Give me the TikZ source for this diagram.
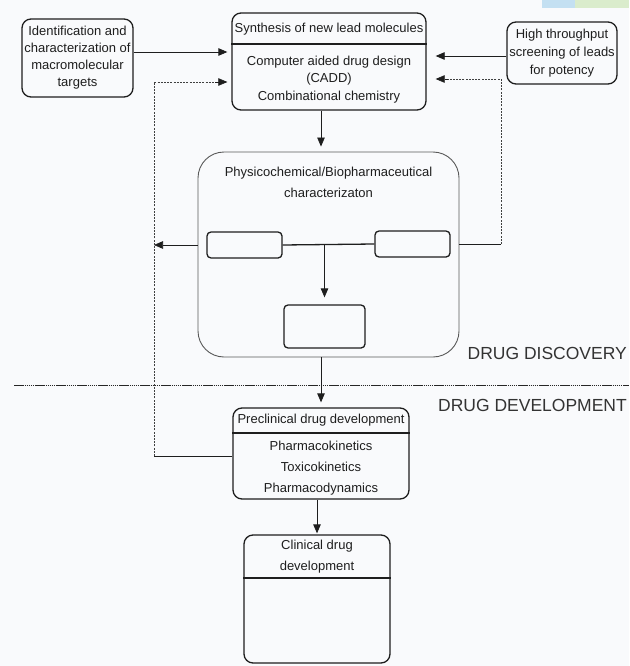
\documentclass[tikz,border=0pt]{standalone}
\usepackage{fontspec}
\setmainfont{Liberation Sans}
\usetikzlibrary{arrows.meta,positioning,calc}
\definecolor{pageBg}{RGB}{249,250,252}
\definecolor{lineDark}{RGB}{30,30,30}
\definecolor{textDark}{RGB}{30,30,30}
\definecolor{barBlue}{RGB}{196,224,242}
\definecolor{barGreen}{RGB}{218,236,204}
\tikzset{
    stageBox/.style={
        ,   draw=lineDark
        ,   line width=1.3pt
        ,   rounded corners=9pt
        ,   inner sep=0pt
        ,   align=center
        ,   text=textDark
    },
    phaseBox/.style={
        ,   draw=black!65
        ,   line width=0.9pt
        ,   rounded corners=26pt
        ,   inner sep=0pt
    },
    slotBox/.style={
        ,   draw=lineDark
        ,   line width=1.3pt
        ,   rounded corners=4pt
        ,   inner sep=0pt
    },
    boxText/.style={ % lines inside a box, #1 = line distance
        ,   align=center
        ,   text=textDark
        ,   inner sep=0pt
        ,   font=\fontsize{13pt}{#1}\selectfont
    },
    phaseLabel/.style={
        ,   anchor=east
        ,   inner sep=0pt
        ,   text=black!80
        ,   font=\fontsize{17.5pt}{20pt}\selectfont
    },
    link/.style={
        ,   draw=lineDark
        ,   line width=0.8pt
    },
    feedback/.style={
        ,   draw=black!75
        ,   line width=0.7pt
        ,   dash pattern=on 2pt off 1.2pt
    },
}

\begin{document}
\begin{tikzpicture}[x=1pt, y=-1pt, font=\fontsize{13pt}{17pt}\selectfont,
    >={Triangle[length=9pt,width=7.5pt]}]
	\useasboundingbox[fill=pageBg] (0,0) rectangle (629,666);
	\fill[barBlue] (542,0) rectangle (575,8);
	\fill[barGreen] (575,0) rectangle (629,8);

	% top row
	\node[stageBox, minimum width=111pt, minimum height=78pt] (ident) at (77.5,58)
		{Identification and\\characterization of\\macromolecular\\targets};
	\node[stageBox, minimum width=194pt, minimum height=97pt] (synth) at (329,61.5) {};
	\node[boxText=17pt] (synthTitle) at (329,29) {Synthesis of new lead molecules};
	\draw[line width=1.3pt, lineDark] (synth.west |- 0,44) -- (synth.east |- 0,44);
	\node[boxText=17.5pt] (synthBody) at (329,79.5)
		{Computer aided drug design\\(CADD)\\Combinational chemistry};
	\node[stageBox, minimum width=110pt, minimum height=62pt, font=\fontsize{13pt}{18pt}\selectfont] (hts) at (562,53)
		{High throughput\\screening of leads\\for potency};

	% characterization block
	\node[phaseBox, minimum width=261pt, minimum height=205pt] (phys) at (328.5,254.5) {};
	\node[boxText=21pt] (physTitle) at (328.5,182)
		{Physicochemical/Biopharmaceutical\\characterizaton};
	\node[slotBox, minimum width=75pt, minimum height=26pt] (boxL) at (244.5,245) {};
	\node[slotBox, minimum width=75pt, minimum height=26pt] (boxR) at (412.5,244) {};
	\node[slotBox, minimum width=81pt, minimum height=43pt] (boxB) at (324.5,326.5) {};
	\draw[link, line width=1.3pt] (boxL.east) -- (boxR.west);
	\draw[link, ->, shorten >=7pt] (boxB.north |- boxL.east) -- (boxB.north);

	% phases
	\node[phaseLabel] (discovery) at (627,353) {DRUG DISCOVERY};
	\draw[line width=1pt, black!85, dash pattern=on 1.5pt off 0.6pt] (14,385) -- (629,385);
	\node[phaseLabel] (development) at (627,405) {DRUG DEVELOPMENT};

	% development boxes
	\node[stageBox, minimum width=176pt, minimum height=91pt] (preclin) at (321,453.5) {};
	\node[boxText=17pt] (preclinTitle) at (321,420) {Preclinical drug development};
	\draw[line width=1.3pt, lineDark] (preclin.west |- 0,433) -- (preclin.east |- 0,433);
	\node[boxText=21pt] (preclinBody) at (321,468)
		{Pharmacokinetics\\Toxicokinetics\\Pharmacodynamics};
	\node[stageBox, minimum width=146pt, minimum height=128pt] (clinical) at (317,599) {};
	\node[boxText=21pt] (clinicalTitle) at (317,556.5) {Clinical drug\\development};
	\draw[line width=1.3pt, lineDark] (clinical.west |- 0,578) -- (clinical.east |- 0,578);

	% main flow
	\draw[link, ->, shorten >=4pt] ([yshift=6pt]ident.east) -- ([yshift=6pt]ident.east -| synth.west);
	\draw[link, ->, shorten >=9pt] ([yshift=-3pt]hts.west) -- ([yshift=-3pt]hts.west -| synth.east);
	\draw[link, ->, shorten >=5pt] ([xshift=-8pt]synth.south) -- ([xshift=-8pt]synth.south |- phys.north);
	\draw[link, ->, shorten >=5pt] (phys.south -| preclin.north) -- (preclin.north);
	\draw[link, ->, shorten >=1pt] (clinical.north |- preclin.south) -- (clinical.north);

	% feedback loops
	\coordinate (fbL) at (154,82);
	\coordinate (fbR) at (501,79);
	\coordinate (tipL) at ($(fbL -| synth.west)+(-16,0)$);
	\coordinate (tipR) at ($(fbR -| synth.east)+(21,0)$);
	\draw[link, line width=0.6pt, ->] (phys.west |- boxL.west) -- (boxL.west -| fbL);
	\draw[link, line width=0.6pt] ([yshift=-2.5pt]preclin.west) -- ([yshift=-2.5pt]preclin.west -| fbL);
	\draw[feedback] ([yshift=-2.5pt]preclin.west -| fbL) -- (fbL) -- (tipL);
	\draw[link, line width=0.6pt, ->, shorten >=4pt] (tipL) -- (fbL -| synth.west);
	\draw[link, line width=0.6pt] (phys.east |- boxR.east) -- (boxR.east -| fbR);
	\draw[feedback] (boxR.east -| fbR) -- (fbR) -- (tipR);
	\draw[link, line width=0.6pt, ->, shorten >=9pt] (tipR) -- (fbR -| synth.east);
\end{tikzpicture}
\end{document}
